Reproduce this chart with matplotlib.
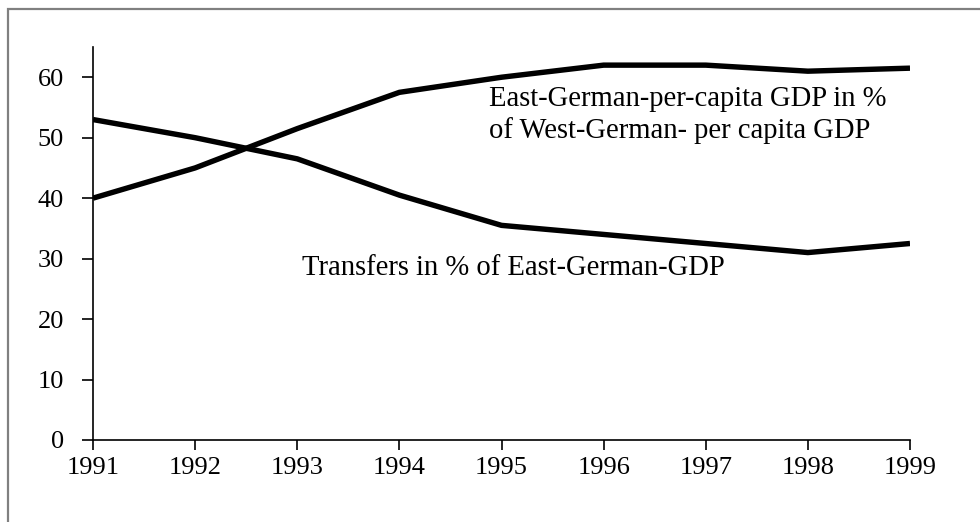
import matplotlib
matplotlib.use("Agg")
import matplotlib.pyplot as plt
from matplotlib.patches import Rectangle

years = [1991, 1992, 1993, 1994, 1995, 1996, 1997, 1998, 1999]
east_gdp_share = [40, 45, 51.5, 57.5, 60, 62, 62, 61, 61.5]
transfers_share = [53, 50, 46.5, 40.5, 35.5, 34, 32.5, 31, 32.5]
y_ticks = [0, 10, 20, 30, 40, 50, 60]
label_gdp_1 = "East-German-per-capita GDP in %"
label_gdp_2 = "of West-German- per capita GDP"
label_transfers = "Transfers in % of East-German-GDP"

W, H = 980, 522
fig = plt.figure(figsize=(W / 100, H / 100), dpi=100)
fig.patch.set_facecolor("white")
ax = fig.add_axes([93 / W, 1 - 440 / H, (910 - 93) / W, (440 - 47) / H])

font = "Liberation Serif"

ax.plot(years, east_gdp_share, color="black", lw=3.9, solid_joinstyle="round", solid_capstyle="butt")
ax.plot(years, transfers_share, color="black", lw=3.9, solid_joinstyle="round", solid_capstyle="butt")

ax.set_xlim(1991, 1999)
ax.set_ylim(0, 65)
ax.set_xticks(years)
ax.set_xticklabels([str(y) for y in years], fontfamily=font, fontsize=19)
ax.set_yticks(y_ticks)
ax.set_yticklabels([str(v) for v in y_ticks], fontfamily=font, fontsize=19)
for s in ["top", "right"]:
    ax.spines[s].set_visible(False)
for s in ["left", "bottom"]:
    ax.spines[s].set_linewidth(1.2)
    ax.spines[s].set_color("black")
ax.tick_params(axis="y", direction="out", length=8, width=1.2, pad=13)
ax.tick_params(axis="x", direction="out", length=7.5, width=1.2, pad=5)

ax.text(1994.88, 55.2, label_gdp_1, fontfamily=font, fontsize=20.6,
        ha="left", va="baseline")
ax.text(1994.88, 49.9, label_gdp_2, fontfamily=font, fontsize=20.6,
        ha="left", va="baseline")
ax.text(1993.05, 27.3, label_transfers, fontfamily=font, fontsize=20.6,
        ha="left", va="baseline")

# outer frame
fig.add_artist(Rectangle((8 / W, -0.1), 1.2, 1 - 9 / H + 0.1, transform=fig.transFigure,
                         fill=False, edgecolor="#808080", lw=1.6, clip_on=False))

fig.savefig("out.png", dpi=100)
